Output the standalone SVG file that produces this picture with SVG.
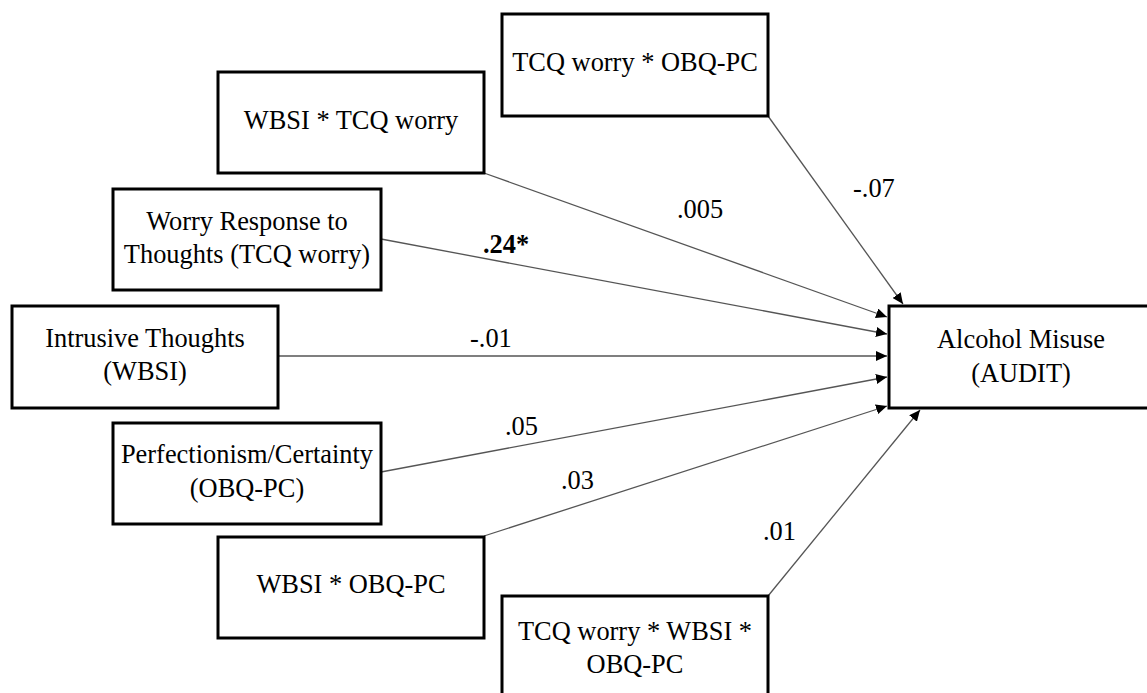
<svg xmlns="http://www.w3.org/2000/svg" width="1147" height="693" viewBox="0 0 1147 693">
<defs>
<style>
.box{fill:#fff;stroke:#000;stroke-width:3}
.t{font-family:"Liberation Serif","Times New Roman",serif;font-size:26.4px;fill:#000;text-anchor:middle}
.lbl{font-family:"Liberation Serif","Times New Roman",serif;font-size:26.4px;fill:#000}
.b{font-weight:bold}
.edge{stroke:#555;stroke-width:1.3;fill:none;marker-end:url(#arr)}
</style>
<marker id="arr" markerUnits="userSpaceOnUse" markerWidth="12" markerHeight="10" refX="11" refY="5" orient="auto">
<path d="M0,0 L11,5 L0,10 Z" fill="#000"/>
</marker>
</defs>
<rect width="1147" height="693" fill="#fff"/>
<g id="connectors">
<line class="edge" x1="768" y1="116" x2="903" y2="304"/>
<line class="edge" x1="484" y1="173" x2="887" y2="317"/>
<line class="edge" x1="381" y1="239" x2="887" y2="334"/>
<line class="edge" x1="278" y1="356" x2="887" y2="356"/>
<line class="edge" x1="381" y1="472" x2="887" y2="377"/>
<line class="edge" x1="484" y1="536" x2="887" y2="406"/>
<line class="edge" x1="768" y1="596" x2="920" y2="410"/>
</g>
<g id="labels">
<text class="lbl" x="677" y="218">.005</text>
<text class="lbl" x="853" y="197">-.07</text>
<text class="lbl b" x="483" y="253">.24*</text>
<text class="lbl" x="470" y="347">-.01</text>
<text class="lbl" x="505" y="435">.05</text>
<text class="lbl" x="561" y="489">.03</text>
<text class="lbl" x="763" y="540">.01</text>
</g>
<g id="n_tcq_obq">
<rect class="box" x="502" y="14" width="266" height="102"/>
<text class="t" x="635" y="71">TCQ worry * OBQ-PC</text>
</g>
<g id="n_wbsi_tcq">
<rect class="box" x="218" y="72" width="266" height="101"/>
<text class="t" x="351" y="129">WBSI * TCQ worry</text>
</g>
<g id="n_worry">
<rect class="box" x="113" y="189" width="268" height="101"/>
<text class="t" x="247" y="230">Worry Response to</text>
<text class="t" x="247" y="263">Thoughts (TCQ worry)</text>
</g>
<g id="n_intrusive">
<rect class="box" x="12" y="306" width="266" height="102"/>
<text class="t" x="145" y="347">Intrusive Thoughts</text>
<text class="t" x="145" y="380">(WBSI)</text>
</g>
<g id="n_perf">
<rect class="box" x="113" y="423" width="268" height="101"/>
<text class="t" x="247" y="463">Perfectionism/Certainty</text>
<text class="t" x="247" y="497">(OBQ-PC)</text>
</g>
<g id="n_wbsi_obq">
<rect class="box" x="218" y="537" width="266" height="101"/>
<text class="t" x="351" y="593">WBSI * OBQ-PC</text>
</g>
<g id="n_three">
<rect class="box" x="502" y="596" width="266" height="103"/>
<text class="t" x="635" y="640">TCQ worry * WBSI *</text>
<text class="t" x="635" y="673">OBQ-PC</text>
</g>
<g id="n_alcohol">
<rect class="box" x="889" y="306" width="264" height="102"/>
<text class="t" x="1021" y="348">Alcohol Misuse</text>
<text class="t" x="1021" y="382">(AUDIT)</text>
</g>
</svg>
